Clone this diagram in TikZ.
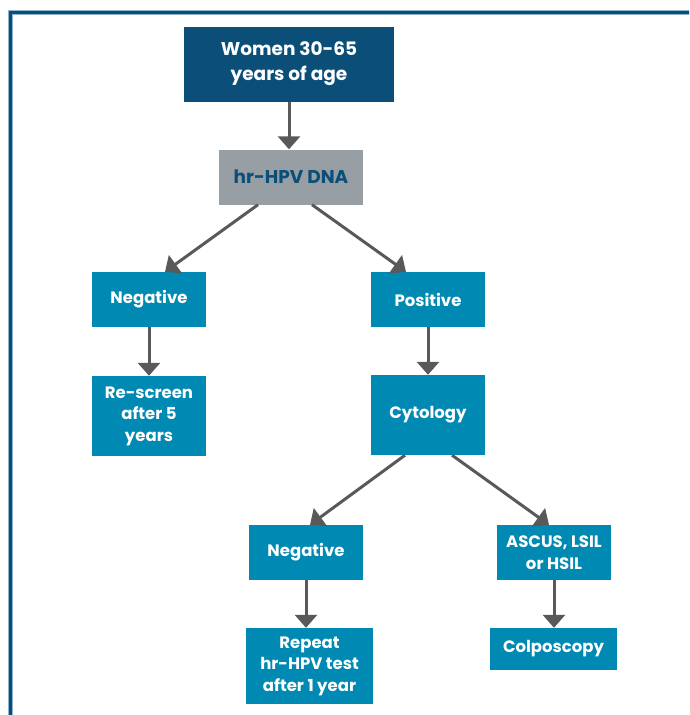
\documentclass[tikz,border=0pt]{standalone}
\usepackage{fontspec}
\setmainfont{Poppins}
\usetikzlibrary{arrows.meta,calc}
\definecolor{darkblue}{HTML}{0B4F79}
\definecolor{teal}{HTML}{0089B2}
\definecolor{greybox}{HTML}{979EA4}
\definecolor{arrowgrey}{HTML}{595959}
\definecolor{lightframe}{HTML}{8FB3CC}
\tikzset{
  x=1pt,y=-1pt,
  box/.style={fill=teal,text=white,font=\bfseries\fontsize{16.5}{21.5}\selectfont,align=center,inner sep=2pt,minimum width=114pt,minimum height=55pt},
  conn/.style={draw=arrowgrey,line width=3pt,-{Triangle[width=22pt,length=13pt]}},
}
\begin{document}
\begin{tikzpicture}
\useasboundingbox (0,0) rectangle (689,715);
\begin{scope}
\clip (0,0) rectangle (689,715);
\draw[lightframe,line width=4.5pt] (10.5,12.5) rectangle (720,740);
\draw[darkblue,line width=2.5pt] (10.5,12.5) rectangle (720,740);
\end{scope}
\node[box,fill=darkblue,minimum width=210pt,minimum height=75pt,font=\bfseries\fontsize{18.5}{25}\selectfont] (women) at (289,64) {Women 30-65\\years of age};
\node[box,fill=greybox,text=darkblue,minimum width=144pt,font=\bfseries\fontsize{18.5}{22}\selectfont] (hr) at (291,177) {hr-HPV DNA};
\node[box] (negl) at (149,299.5) {Negative};
\node[box,minimum height=80pt] (resc) at (149,416) {Re-screen\\after 5\\years};
\node[box] (pos) at (428,299.5) {Positive};
\node[box,minimum height=80pt] (cyt) at (428,415) {Cytology};
\node[box] (negb) at (306,552.5) {Negative};
\node[box] (asc) at (554,552.5) {ASCUS, LSIL\\or HSIL};
\node[box,minimum width=127pt,minimum height=76pt] (rep) at (309.5,666) {Repeat\\hr-HPV test\\after 1 year};
\node[box,minimum width=127pt,minimum height=42pt] (col) at (553.5,649) {Colposcopy};
\draw[conn] (women.south) -- (women.south |- hr.north);
\draw[conn] ($(hr.south)+(-33,0)$) -- ($(negl.north)+(16,0)$);
\draw[conn] ($(hr.south)+(21,0)$) -- ($(pos.north)+(-22,0)$);
\draw[conn] (negl.south) -- (resc.north);
\draw[conn] (pos.south) -- (cyt.north);
\draw[conn] ($(cyt.south)+(-23,0)$) -- ($(negb.north)+(4,0)$);
\draw[conn] ($(cyt.south)+(24,0)$) -- ($(asc.north)+(-5,0)$);
\draw[conn] (negb.south) -- (negb.south |- rep.north);
\draw[conn] (asc.south) -- (asc.south |- col.north);
\end{tikzpicture}
\end{document}
